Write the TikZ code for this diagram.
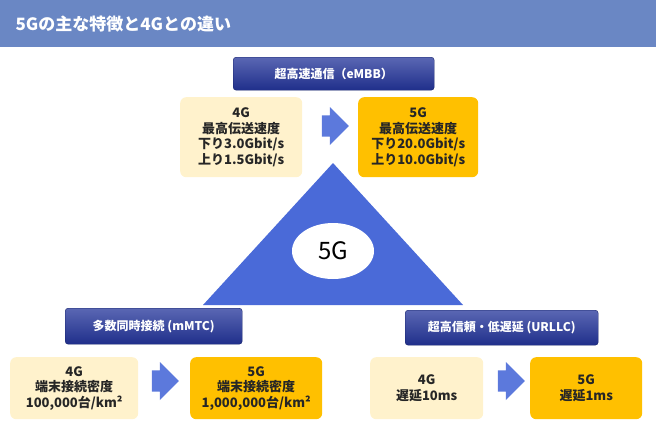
\documentclass[tikz,border=0pt]{standalone}
\usepackage{fontspec}
\setmainfont{Noto Sans CJK JP}
\usetikzlibrary{positioning, shapes.arrows, shapes.geometric}
\definecolor{titlebar}{HTML}{6A87C4}
\definecolor{navy}{HTML}{23349A}
\definecolor{pale}{HTML}{FFF2CC}
\definecolor{gold}{HTML}{FFC000}
\definecolor{tri}{HTML}{4A6AD8}
\begin{document}
\begin{tikzpicture}[
    x=1pt, y=-1pt,
    header/.style={rectangle, rounded corners=3pt, top color=navy!75!white, bottom color=navy!90!black,
      draw=navy!70!black, anchor=north west, inner sep=0pt},
    headtext/.style={text=white, font=\fontsize{12}{14}\selectfont\bfseries},
    oldbox/.style={rectangle, rounded corners=6pt, fill=pale, align=center, anchor=north west, inner sep=0pt,
      font=\fontsize{13}{15.5}\selectfont\bfseries, text=black!85},
    newbox/.style={oldbox, fill=gold},
    nextarrow/.style={single arrow, fill=tri!90!white, minimum height=27pt, minimum width=38pt,
      single arrow head extend=8pt, inner xsep=0pt, inner ysep=10pt, shape border uses incircle=false}
]
\useasboundingbox (0,0) rectangle (656,426);

% Title bar
\fill[titlebar] (0,0) rectangle (656,47);
\node[anchor=west, text=white, font=\fontsize{17}{19}\selectfont\bfseries] (title) at (12,24) {5Gの主な特徴と4Gとの違い};

% Central triangle
\fill[tri] (333,163) -- (463,305) -- (203,305) -- cycle;
\node[ellipse, fill=white, minimum width=82pt, minimum height=56pt, font=\fontsize{24}{26}\selectfont] (core) at (333,251) {5G};

% eMBB
\node[header, minimum width=201pt, minimum height=33pt] (embb) at (233,57) {};
\node[headtext] at (embb.center) {超高速通信（eMBB）};
\node[oldbox, minimum width=122pt, minimum height=80pt] (speed4) at (180,97) {4G\\最高伝送速度\\下り3.0Gbit/s\\上り1.5Gbit/s};
\node[newbox, minimum width=120pt, minimum height=80pt] (speed5) at (358,97) {5G\\最高伝送速度\\下り20.0Gbit/s\\上り10.0Gbit/s};
\node[nextarrow] (arr1) at (330,126) {};

% mMTC
\node[header, minimum width=177pt, minimum height=36pt] (mmtc) at (65,308) {};
\node[headtext] at (mmtc.center) {多数同時接続 (mMTC)};
\node[oldbox, minimum width=128pt, minimum height=62pt] (dens4) at (10,357) {4G\\端末接続密度\\100,000台/km²};
\node[newbox, minimum width=132pt, minimum height=62pt] (dens5) at (190,357) {5G\\端末接続密度\\1,000,000台/km²};
\node[nextarrow] (arr2) at (160,381) {};

% URLLC
\node[header, minimum width=193pt, minimum height=35pt] (urllc) at (405,310) {};
\node[headtext] at (urllc.center) {超高信頼・低遅延 (URLLC)};
\node[oldbox, minimum width=113pt, minimum height=62pt] (lat4) at (370,357) {4G\\遅延10ms};
\node[newbox, minimum width=112pt, minimum height=62pt] (lat5) at (530,357) {5G\\遅延1ms};
\node[nextarrow] (arr3) at (506,381) {};

\end{tikzpicture}
\end{document}
